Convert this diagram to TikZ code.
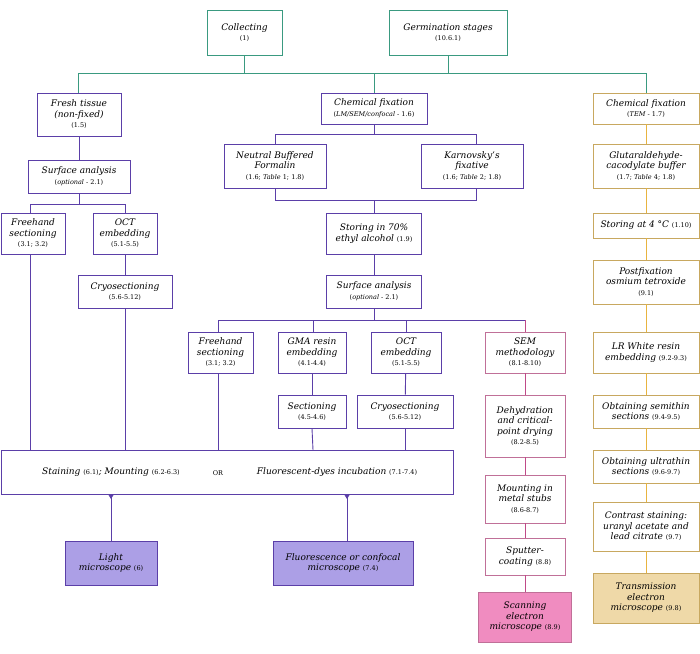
\documentclass[tikz,border=0pt]{standalone}
\usepackage{fontspec}
\setmainfont{DejaVu Serif}
\usetikzlibrary{arrows.meta}
\definecolor{teal1}{HTML}{3A9A80}
\definecolor{pur}{HTML}{5B3FA8}
\definecolor{pinkl}{HTML}{C04A88}
\definecolor{pinkb}{HTML}{C07098}
\definecolor{goldl}{HTML}{E8B440}
\definecolor{goldb}{HTML}{C8A860}
\definecolor{purfill}{HTML}{AC9FE6}
\definecolor{pinkfill}{HTML}{F08CC0}
\definecolor{tanfill}{HTML}{EFD9A8}
\newcommand{\rf}[1]{{\fontsize{6.5}{8}\selectfont\upshape #1}}
\tikzset{
 bx/.style={draw, line width=0.9pt, fill=white, align=center, inner sep=1pt,
   font=\fontsize{9}{10.5}\selectfont\itshape},
 tb/.style={bx, draw=teal1},
 pb/.style={bx, draw=pur},
 kb/.style={bx, draw=pinkb},
 gb/.style={bx, draw=goldb},
 tl/.style={teal1, line width=0.9pt},
 pl/.style={pur, line width=0.9pt},
 kl/.style={pinkl, line width=0.9pt},
 gl/.style={goldl, line width=0.9pt},
 sz/.style 2 args={minimum width=#1pt, minimum height=#2pt},
}
\begin{document}
\begin{tikzpicture}[x=1pt,y=-1pt]
\useasboundingbox (0,0) rectangle (700,653);
% top
\node[tb, sz={75}{45}] (col) at (244.5,32.5) {Collecting\\\rf{(1)}};
\node[tb, sz={118}{45}] (ger) at (448,32.5) {Germination stages\\\rf{(10.6.1)}};
\coordinate (t1) at (78,73); \coordinate (t2) at (646,73);
\draw[tl] (col.south) -- (col.south |- t1);
\draw[tl] (ger.south) -- (ger.south |- t1);
\draw[tl] (78,93) -- (t1) -- (t2) -- (646,93);
\draw[tl] (374,73) -- (374,93);
% left column
\node[pb, sz={84}{43}] (fresh) at (79,114.5) {Fresh tissue\\(non-fixed)\\\rf{(1.5)}};
\node[pb, sz={102}{33}] (sa1) at (79,176.5) {Surface analysis\\\rf{(\textit{optional} - 2.1)}};
\node[pb, sz={64}{41}] (fh1) at (33,233.5) {Freehand\\sectioning\\\rf{(3.1; 3.2)}};
\node[pb, sz={64}{41}] (oct1) at (125,233.5) {OCT\\embedding\\\rf{(5.1-5.5)}};
\node[pb, sz={94}{33}] (cry1) at (125,291.5) {Cryosectioning\\\rf{(5.6-5.12)}};
\draw[pl] (fresh) -- (sa1);
\draw[pl] (sa1.south) -- (79,204) -- (30,204) -- (30,213);
\draw[pl] (79,204) -- (125,204) -- (oct1.north);
\draw[pl] (oct1) -- (cry1);
% middle
\node[pb, sz={106}{31}] (cf) at (374,108.5) {Chemical fixation\\\rf{(\textit{LM/SEM/confocal} - 1.6)}};
\node[pb, sz={102}{44}] (nbf) at (275,166) {Neutral Buffered\\Formalin\\\rf{(1.6; \textit{Table} 1; 1.8)}};
\node[pb, sz={102}{44}] (kar) at (472,166) {Karnovsky's\\fixative\\\rf{(1.6; \textit{Table} 2; 1.8)}};
\node[pb, sz={95}{41}] (sto) at (374,233.5) {Storing in 70\%\\ethyl alcohol \rf{(1.9)}};
\node[pb, sz={95}{33}] (sa2) at (374,291.5) {Surface analysis\\\rf{(\textit{optional} - 2.1)}};
\draw[pl] (cf.south) -- (374,134) -- (275,134) -- (nbf.north);
\draw[pl] (374,134) -- (476,134) -- (476,144);
\draw[pl] (nbf.south) -- (275,200) -- (476,200) -- (476,188);
\draw[pl] (374,200) -- (sto.north);
\draw[pl] (sto) -- (sa2);
\node[pb, sz={65}{41}] (fh2) at (220.5,352.5) {Freehand\\sectioning\\\rf{(3.1; 3.2)}};
\node[pb, sz={68}{41}] (gma) at (312,352.5) {GMA resin\\embedding\\\rf{(4.1-4.4)}};
\node[pb, sz={68}{33}] (sec) at (312,411.5) {Sectioning\\\rf{(4.5-4.6)}};
\node[pb, sz={70}{41}] (oct2) at (406,352.5) {OCT\\embedding\\\rf{(5.1-5.5)}};
\node[pb, sz={96}{33}] (cry2) at (405,411.5) {Cryosectioning\\\rf{(5.6-5.12)}};
\draw[pl] (sa2.south) -- (374,320);
\draw[pl] (218,332) -- (218,320) -- (525,320);
\draw[pl] (313,320) -- (313,332);
\draw[pl] (406,320) -- (oct2.north);
\draw[kl] (525,320) -- (525,332);
\draw[pl] (gma) -- (sec);
\draw[pl] (oct2) -- (cry2);
% staining box
\node[pb, sz={452}{44}] (stn) at (227,472) {};
\node[font=\fontsize{9}{10.5}\selectfont\itshape] (st1) at (111,472) {Staining \rf{(6.1)}; Mounting \rf{(6.2-6.3)}};
\node[font=\fontsize{6.5}{8}\selectfont] (or) at (218,473) {OR};
\node[font=\fontsize{9}{10.5}\selectfont\itshape] (st2) at (337,472) {Fluorescent-dyes incubation \rf{(7.1-7.4)}};
\draw[pl] (30,254) -- (30,450);
\draw[pl] (cry1.south) -- (125,450);
\draw[pl] (218,373) -- (218,450);
\draw[pl] (sec.south) -- (313,450);
\draw[pl] (cry2.south) -- (405,450);
\node[pb, fill=purfill, sz={92}{44}] (lm) at (111,563) {Light\\microscope \rf{(6)}};
\node[pb, fill=purfill, sz={140}{44}] (fm) at (343,563) {Fluorescence or confocal\\microscope \rf{(7.4)}};
\coordinate (a1) at (111,494); \coordinate (a2) at (347,494);
\draw[pl, {Triangle[reversed,length=5pt,width=6pt]}-] (a1) -- (lm.north -| a1);
\draw[pl, {Triangle[reversed,length=5pt,width=6pt]}-] (a2) -- (fm.north -| a2);
% SEM column
\node[kb, sz={80}{41}] (sem) at (525,352.5) {SEM\\methodology\\\rf{(8.1-8.10)}};
\node[kb, sz={80}{62}] (deh) at (525,426) {Dehydration\\and critical-\\point drying\\\rf{(8.2-8.5)}};
\node[kb, sz={80}{48}] (mnt) at (525,499) {Mounting in\\metal stubs\\\rf{(8.6-8.7)}};
\node[kb, sz={80}{37}] (spu) at (525,556.5) {Sputter-\\coating \rf{(8.8)}};
\node[kb, fill=pinkfill, sz={93}{50}] (sc) at (525,617) {Scanning\\electron\\microscope \rf{(8.9)}};
\draw[kl] (sem) -- (deh); \draw[kl] (deh) -- (mnt); \draw[kl] (mnt) -- (spu); \draw[kl] (spu) -- (sc);
% TEM column
\node[gb, sz={106}{31}] (cf2) at (646,108.5) {Chemical fixation\\\rf{(\textit{TEM} - 1.7)}};
\node[gb, sz={106}{44}] (glu) at (646,166) {Glutaraldehyde-\\cacodylate buffer\\\rf{(1.7; \textit{Table} 4; 1.8)}};
\node[gb, sz={106}{25}] (s4) at (646,225.5) {Storing at 4 °C \rf{(1.10)}};
\node[gb, sz={106}{44}] (pf) at (646,282) {Postfixation\\osmium tetroxide\\\rf{(9.1)}};
\node[gb, sz={106}{41}] (lr) at (646,352.5) {LR White resin\\embedding \rf{(9.2-9.3)}};
\node[gb, sz={106}{33}] (semi) at (646,411.5) {Obtaining semithin\\sections \rf{(9.4-9.5)}};
\node[gb, sz={106}{33}] (ult) at (646,466.5) {Obtaining ultrathin\\sections \rf{(9.6-9.7)}};
\node[gb, sz={106}{49}] (con) at (646,526.5) {Contrast staining:\\uranyl acetate and\\lead citrate \rf{(9.7)}};
\node[gb, fill=tanfill, sz={106}{50}] (tem) at (646,598) {Transmission\\electron\\microscope \rf{(9.8)}};
\foreach \a/\b in {cf2/glu,glu/s4,s4/pf,pf/lr,lr/semi,semi/ult,ult/con,con/tem}{\draw[gl] (\a) -- (\b);}
\end{tikzpicture}
\end{document}
